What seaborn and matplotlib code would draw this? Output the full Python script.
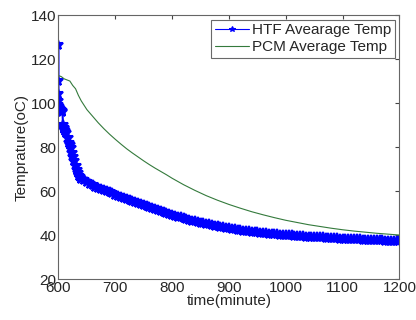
import numpy as np
import pandas as pd
import matplotlib
matplotlib.use("Agg")
import matplotlib.pyplot as plt
import seaborn as sns

# HTF average temperature (dense early part, then every 5 minutes)
htf_time = [600, 600, 600, 600, 600, 601, 602, 603, 604, 605, 606, 607, 608, 609,
            610, 612, 614, 616, 618, 620, 622, 624, 626, 628, 630, 632, 634, 636,
            638, 640] + list(range(645, 1201, 5))
htf_temp = [126.5, 110, 104, 101, 99, 98, 97.5, 97, 96.8, 96.5, 96.5, 96, 90, 88.5,
            88, 87.5, 86.5, 84, 82, 81, 79.5, 77.5, 75.5, 73.5, 71.5, 69.5, 68, 67,
            66.3, 65.5,
            64.8, 64.0, 63.3, 62.6, 62.0, 61.5, 61.0, 60.6, 60.1, 59.5, 59.0, 58.4,
            57.9, 57.3, 56.8, 56.3, 55.8, 55.3, 54.8, 54.4, 53.9, 53.5, 53.0, 52.6,
            52.1, 51.7, 51.2, 50.8, 50.4, 49.9, 49.5, 49.1, 48.8, 48.4, 48.0, 47.7,
            47.3, 47.0, 46.6, 46.3, 46.0, 45.7, 45.4, 45.1, 44.8, 44.5, 44.3, 44.0,
            43.7, 43.5, 43.2, 43.0, 42.8, 42.6, 42.4, 42.2, 42.0, 41.9, 41.7, 41.6,
            41.4, 41.3, 41.1, 41.0, 40.9, 40.7, 40.6, 40.5, 40.4, 40.2, 40.1, 40.0,
            39.9, 39.8, 39.7, 39.6, 39.5, 39.4, 39.3, 39.3, 39.2, 39.1, 39.0, 38.9,
            38.9, 38.8, 38.7, 38.6, 38.6, 38.5, 38.4, 38.4, 38.3, 38.2, 38.2, 38.1,
            38.0, 38.0, 37.9, 37.9, 37.8, 37.8, 37.7, 37.7, 37.6, 37.6, 37.5, 37.5,
            37.4, 37.4, 37.3, 37.3]

# PCM average temperature
pcm_time = [600, 605, 610, 615, 620, 625, 630, 635, 640, 650, 660, 670, 680, 690,
            700, 710, 720, 730, 740, 750, 760, 770, 780, 790, 800, 820, 840, 860,
            880, 900, 920, 940, 960, 980, 1000, 1020, 1040, 1060, 1080, 1100, 1120,
            1140, 1160, 1180, 1200]
pcm_temp = [112.5, 112, 111, 110.5, 110, 108, 106.5, 103.5, 101, 97, 94, 91, 88.3,
            85.8, 83.5, 81.3, 79.2, 77.3, 75.5, 73.7, 72, 70.4, 68.9, 67.4, 65.8,
            62.9, 60.3, 57.9, 55.8, 53.9, 52.2, 50.6, 49.2, 47.9, 46.7, 45.7, 44.7,
            43.9, 43.1, 42.4, 41.8, 41.3, 40.8, 40.4, 40.0]

sns.set_style("white")
plt.rcParams['font.family'] = ['Liberation Sans', 'DejaVu Sans']

fig = plt.figure(figsize=(4.16, 3.2), dpi=100)
ax = fig.add_axes([0.1406, 0.128, 0.8197, 0.825])

sns.lineplot(x=htf_time, y=htf_temp, estimator=None, sort=False, ax=ax,
             color='#0000ff', lw=1.5, marker='*', markersize=7.5, mew=1.5,
             markeredgecolor='#0000ff', label='HTF Avearage Temp')
sns.lineplot(x=pcm_time, y=pcm_temp, estimator=None, sort=False, ax=ax,
             color='#347a3c', lw=0.8, label='PCM Average Temp')

ax.set_xlim(600, 1200)
ax.set_ylim(20, 140)
ax.set_xticks(range(600, 1201, 100))
ax.set_yticks(range(20, 141, 20))
ax.tick_params(direction='in', top=True, right=True, length=3, labelsize=11,
               color='#444444', pad=1.5)
for s in ax.spines.values():
    s.set_color('#666666')
    s.set_linewidth(0.8)
ax.set_xlabel('time(minute)', fontsize=11, labelpad=-1)
ax.set_ylabel('Temprature(oC)', fontsize=11, labelpad=2)

leg = ax.legend(loc='upper right', fontsize=11, frameon=True, fancybox=False,
                handlelength=2.2, borderpad=0.25, labelspacing=0.2,
                handletextpad=0.2, borderaxespad=0.3)
leg.get_frame().set_edgecolor('#444444')
leg.get_frame().set_linewidth(0.8)
for h in leg.legend_handles:
    h.set_markersize(4)
    h.set_markeredgewidth(0.8)
    h.set_linewidth(0.8)

fig.savefig('out.png', dpi=100)
